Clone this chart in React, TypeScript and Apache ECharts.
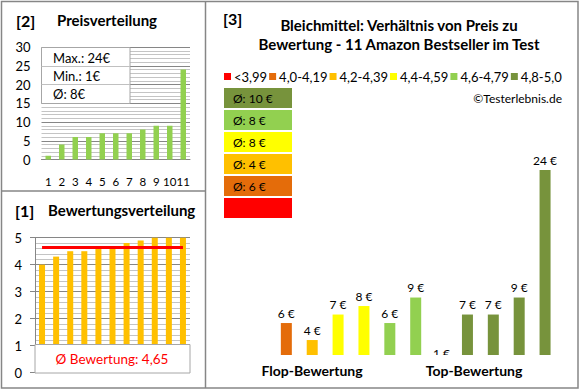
import React, { useEffect, useRef } from "react";
import * as echarts from "echarts";

// ---------- data ----------
const productIds = ["1", "2", "3", "4", "5", "6", "7", "8", "9", "10", "11"];
// products ordered from flop to top rating
const productPrices = [6, 4, 7, 8, 6, 9, 1, 7, 7, 9, 24];
const productRatings = [4.0, 4.3, 4.5, 4.5, 4.6, 4.6, 4.8, 4.9, 5.0, 5.0, 5.0];
const bandNames = ["<3,99", "4,0-4,19", "4,2-4,39", "4,4-4,59", "4,6-4,79", "4,8-5,0"];
const bandLower = [0, 4.0, 4.2, 4.4, 4.6, 4.8];
const bandColors = ["#FF0000", "#E46C0A", "#FFC000", "#FFFF00", "#92D050", "#77933C"];
const titleLines = ["Bleichmittel: Verhältnis von Preis zu", "Bewertung - 11 Amazon Bestseller im Test"];
const groupLabels = ["Flop-Bewertung", "Top-Bewertung"];

// ---------- derived ----------
const priceSorted = [...productPrices].sort((a, b) => a - b);
const bandOf = (r: number) => {
  let b = 0;
  for (let i = 1; i < bandLower.length; i++) if (r >= bandLower[i] - 1e-9) b = i;
  return b;
};
const productBand = productRatings.map(bandOf);
const priceMax = Math.max(...productPrices);
const priceMin = Math.min(...productPrices);
const priceAvg = Math.round(productPrices.reduce((s, v) => s + v, 0) / productPrices.length);
const ratingAvg = productRatings.reduce((s, v) => s + v, 0) / productRatings.length;
const bandAvgLabels = bandNames.map((_, b) => {
  const ps = productPrices.filter((_, i) => productBand[i] === b);
  if (!ps.length) return "";
  return "Ø: " + Math.round(ps.reduce((s, v) => s + v, 0) / ps.length) + " €";
});

const FONT = "Lato";
const GRID_LINE = "#868686";
const MINOR_LINE = "#C4C4C4";
const Y3_MIN = 2.24;

const txt = (text: string, x: number, y: number, font: string, align = "left", fill = "#000") => ({
  type: "text",
  z: 110,
  x,
  y,
  style: {
    text,
    font,
    fill,
    align,
    verticalAlign: "middle",
    textAlign: align,
    textVerticalAlign: "middle",
  },
});

export default function App() {
  const ref = useRef<HTMLDivElement>(null);
  useEffect(() => {
    if (!ref.current) return;
    const chart = echarts.init(ref.current, undefined, { renderer: "svg" });

    const makeRender = (color: string) => (params: any, api: any) => {
      const idx = api.value(0);
      const v = api.value(1);
      const base = api.coord([idx, Y3_MIN]);
      const top = api.coord([idx, Math.max(v, Y3_MIN)]);
      const bw = 11;
      const children: any[] = [];
      if (v > Y3_MIN) {
        children.push({
          type: "rect",
          shape: { x: top[0] - bw / 2, y: top[1], width: bw, height: base[1] - top[1] },
          style: { fill: color },
        });
      }
      const ly = v > Y3_MIN ? top[1] - 4 : base[1] + 4;
      children.push({
        type: "text",
        x: top[0],
        y: ly,
        style: {
          text: v + " €",
          font: `12px ${FONT}`,
          fill: "#000",
          align: "center",
          verticalAlign: "bottom",
          textAlign: "center",
          textVerticalAlign: "bottom",
        },
      });
      return { type: "group", children };
    };

    const bandSeries = bandNames.map((name, b) => ({
      type: "custom",
      name,
      xAxisIndex: 2,
      yAxisIndex: 2,
      clip: true,
      itemStyle: { color: bandColors[b] },
      encode: { x: 0, y: 1 },
      renderItem: makeRender(bandColors[b]),
      data: productPrices.map((p, i) => [i, p]).filter((_, i) => productBand[i] === b),
    }));

    const graphics: any[] = [];
    // frame
    graphics.push({
      type: "rect",
      z: 120,
      shape: { x: 1.5, y: 1.5, width: 576.5, height: 386.5 },
      style: { fill: "none", stroke: "#868686", lineWidth: 1.5 },
    });
    graphics.push({
      type: "line",
      z: 120,
      shape: { x1: 205.5, y1: 1.5, x2: 205.5, y2: 388 },
      style: { stroke: "#868686", lineWidth: 1.5 },
    });
    graphics.push({
      type: "line",
      z: 120,
      shape: { x1: 1.5, y1: 191, x2: 205.5, y2: 191 },
      style: { stroke: "#868686", lineWidth: 1.5 },
    });
    // panel titles
    graphics.push(txt("[2]", 16, 20, `bold 16px ${FONT}`));
    graphics.push(txt("Preisverteilung", 57, 20, `bold 15px ${FONT}`));
    graphics.push(txt("[1]", 15, 210, `bold 16px ${FONT}`));
    graphics.push(txt("Bewertungsverteilung", 48, 210, `bold 15px ${FONT}`));
    graphics.push(txt("[3]", 223, 18, `bold 16px ${FONT}`));
    graphics.push(txt(titleLines[0], 399, 25, `bold 15px ${FONT}`, "center"));
    graphics.push(txt(titleLines[1], 399, 44, `bold 15px ${FONT}`, "center"));
    graphics.push(txt("©Testerlebnis.de", 562, 98, `12px ${FONT}`, "right"));
    // info box in price distribution
    graphics.push({
      type: "rect",
      z: 100,
      shape: { x: 41.5, y: 47.5, width: 88.5, height: 56 },
      style: { fill: "#fff", stroke: "#A6A6A6", lineWidth: 1 },
    });
    graphics.push({
      type: "line",
      z: 101,
      shape: { x1: 41.5, y1: 66.5, x2: 130, y2: 66.5 },
      style: { stroke: "#C0C0C0", lineWidth: 1 },
    });
    graphics.push({
      type: "line",
      z: 101,
      shape: { x1: 41.5, y1: 84.5, x2: 130, y2: 84.5 },
      style: { stroke: "#C0C0C0", lineWidth: 1 },
    });
    graphics.push(txt(`Max.: ${priceMax}€`, 53, 58, `13px ${FONT}`));
    graphics.push(txt(`Min.: ${priceMin}€`, 53, 76, `13px ${FONT}`));
    graphics.push(txt(`Ø: ${priceAvg}€`, 53, 94, `13px ${FONT}`));
    // rating average box
    graphics.push({
      type: "rect",
      z: 100,
      shape: { x: 35, y: 344.5, width: 155, height: 28.5 },
      style: { fill: "#fff", stroke: "#A6A6A6", lineWidth: 1 },
    });
    graphics.push(
      txt(`Ø Bewertung: ${ratingAvg.toFixed(2).replace(".", ",")}`, 112, 358.5, `13.5px ${FONT}`, "center", "#FF0000")
    );
    // band average boxes (top = best band)
    for (let k = 0; k < bandNames.length; k++) {
      const b = bandNames.length - 1 - k;
      const y = 88 + k * 22;
      graphics.push({
        type: "rect",
        z: 100,
        shape: { x: 224, y, width: 68, height: 20 },
        style: { fill: bandColors[b] },
      });
      if (bandAvgLabels[b]) graphics.push(txt(bandAvgLabels[b], 233, y + 10, `12px ${FONT}`));
    }
    // group labels
    graphics.push(txt(groupLabels[0], 312, 370, `bold 14px ${FONT}`, "center"));
    graphics.push(txt(groupLabels[1], 474, 370, `bold 14px ${FONT}`, "center"));

    const axisLabelStyle = { fontFamily: FONT, fontSize: 13, color: "#000" };

    chart.setOption({
      animation: false,
      backgroundColor: "#fff",
      textStyle: { fontFamily: FONT },
      legend: {
        data: bandNames.map((n) => ({ name: n, icon: "rect" })),
        left: 224,
        top: 70,
        itemWidth: 7,
        itemHeight: 7,
        itemGap: 2,
        selectedMode: false,
        padding: 0,
        textStyle: { fontFamily: FONT, fontSize: 13, color: "#000", padding: [0, 0, 0, -2] },
      },
      grid: [
        { left: 41.5, top: 47, width: 148.5, height: 112.5 },
        { left: 35, top: 237.7, width: 155, height: 135 },
        { left: 273.4, top: 144.5, width: 284.6, height: 210.5 },
      ],
      xAxis: [
        {
          gridIndex: 0,
          type: "category",
          data: productIds,
          axisLine: { lineStyle: { color: GRID_LINE } },
          axisTick: { show: false },
          axisLabel: { ...axisLabelStyle, fontSize: 11.5, margin: 16, interval: 0 },
        },
        { gridIndex: 1, type: "category", data: productIds, show: false },
        { gridIndex: 2, type: "category", data: productIds, show: false },
      ],
      yAxis: [
        {
          gridIndex: 0,
          type: "value",
          min: 0,
          max: 30,
          interval: 5,
          axisLine: { show: false },
          axisTick: { show: false },
          axisLabel: { ...axisLabelStyle, margin: 11 },
          splitLine: { lineStyle: { color: GRID_LINE } },
          minorTick: { show: false, splitNumber: 5 },
          minorSplitLine: { show: true, lineStyle: { color: MINOR_LINE } },
        },
        {
          gridIndex: 1,
          type: "value",
          min: 0,
          max: 5,
          interval: 1,
          axisLine: { show: true, lineStyle: { color: GRID_LINE } },
          axisTick: { show: true, length: 5, lineStyle: { color: GRID_LINE } },
          axisLabel: { ...axisLabelStyle, margin: 13 },
          splitLine: { lineStyle: { color: GRID_LINE } },
          minorTick: { show: false, splitNumber: 5 },
          minorSplitLine: { show: true, lineStyle: { color: MINOR_LINE } },
        },
        { gridIndex: 2, type: "value", min: Y3_MIN, max: 27, show: false },
      ],
      series: [
        {
          type: "bar",
          name: "Preis",
          xAxisIndex: 0,
          yAxisIndex: 0,
          data: priceSorted,
          barWidth: 5.5,
          itemStyle: { color: "#92D050" },
        },
        {
          type: "bar",
          name: "Bewertung",
          xAxisIndex: 1,
          yAxisIndex: 1,
          data: productRatings,
          barWidth: 6,
          itemStyle: { color: "#FFC000" },
          markLine: {
            silent: true,
            symbol: "none",
            label: { show: false },
            lineStyle: { color: "#FF0000", width: 3, type: "solid" },
            data: [
              [
                { coord: [productIds[0], ratingAvg] },
                { coord: [productIds[productIds.length - 1], ratingAvg] },
              ],
            ],
          },
        },
        ...bandSeries,
      ],
      graphic: { elements: graphics },
    });

    return () => chart.dispose();
  }, []);

  return (
    <div
      ref={ref}
      style={{ position: "absolute", left: 0, top: 0, width: 580, height: 390 }}
    />
  );
}
